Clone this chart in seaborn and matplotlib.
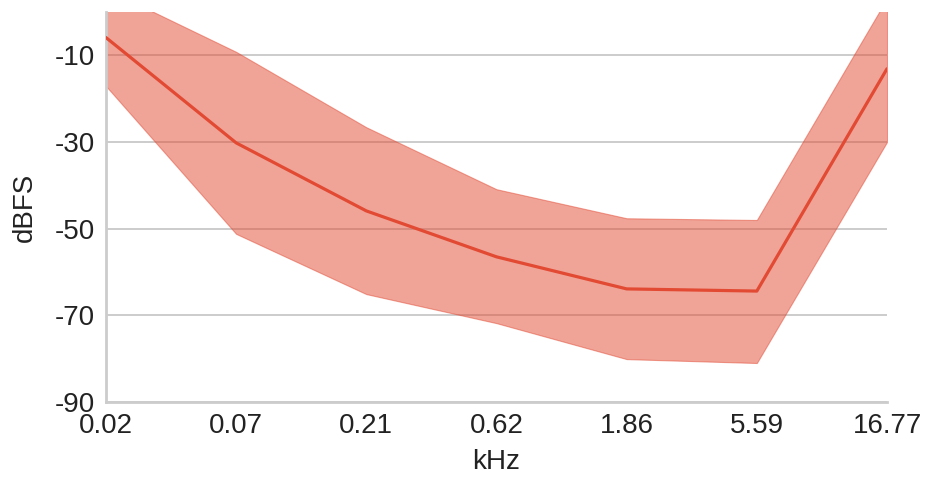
import matplotlib
matplotlib.use("Agg")
import matplotlib.pyplot as plt
import seaborn as sns
import pandas as pd
import numpy as np

freq_khz = [0.023, 0.069, 0.207, 0.621, 1.863, 5.59, 16.77]
tick_labels = ["0.02", "0.07", "0.21", "0.62", "1.86", "5.59", "16.77"]
mean_dbfs = [-5.9, -30.2, -45.9, -56.5, -63.9, -64.4, -13.1]
upper_dbfs = [5.3, -9.2, -26.6, -40.9, -47.6, -48.0, 3.1]
lower_dbfs = [-17.1, -51.2, -65.1, -71.8, -80.1, -81.0, -30.0]
y_ticks = [-90, -70, -50, -30, -10]

sns.set_style("whitegrid")
plt.rcParams['font.family'] = ['Liberation Sans', 'DejaVu Sans']

color = "#e24a33"
fig = plt.figure(figsize=(9.25, 4.83), dpi=100)
ax = fig.add_axes([106/925, 1 - 402/483, (887-106)/925, (402-12)/483])

df = pd.DataFrame({"kHz": freq_khz, "dBFS": mean_dbfs})
ax.fill_between(freq_khz, lower_dbfs, upper_dbfs, facecolor=color, alpha=0.5,
                edgecolor=color, linewidth=0.8, zorder=2)
sns.lineplot(data=df, x="kHz", y="dBFS", ax=ax, color=color, linewidth=2.3, zorder=3)

ax.set_xscale("log")
ax.set_xlim(freq_khz[0], freq_khz[-1])
ax.set_xticks(freq_khz)
ax.set_xticklabels(tick_labels)
ax.xaxis.set_minor_locator(matplotlib.ticker.NullLocator())
ax.set_ylim(-90, 0)
ax.set_yticks(y_ticks)
ax.set_yticklabels([str(v) for v in y_ticks])

ax.grid(axis="x", visible=False)
ax.grid(axis="y", color="#c8c8c8", linewidth=1.3)
ax.set_axisbelow(True)
for s in ["top", "right"]:
    ax.spines[s].set_visible(False)
for s in ["left", "bottom"]:
    ax.spines[s].set_color("#cccccc")
    ax.spines[s].set_linewidth(2)

ax.tick_params(axis="both", labelsize=20, colors="#222222")
ax.tick_params(axis="x", length=3, width=0.8, color="#dddddd", pad=5)
ax.tick_params(axis="y", length=0, pad=8)
ax.set_xlabel("kHz", fontsize=20, color="#222222", labelpad=7)
ax.set_ylabel("dBFS", fontsize=20, color="#222222", labelpad=12)

fig.savefig("out.png", dpi=100)
